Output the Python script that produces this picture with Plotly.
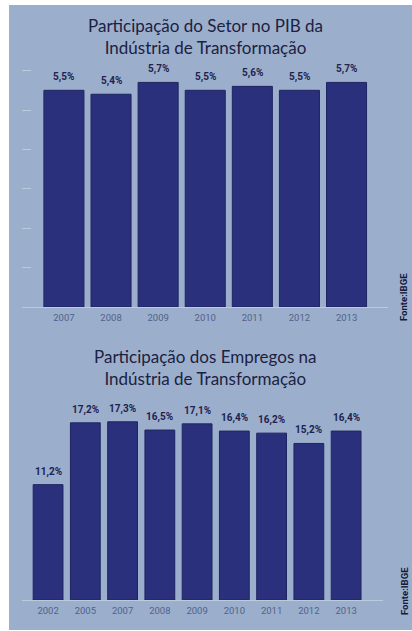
import plotly.graph_objects as go

W, H = 412, 631

# Participação do setor no PIB da indústria de transformação (%)
pib_years = ["2007", "2008", "2009", "2010", "2011", "2012", "2013"]
pib_values = [5.5, 5.4, 5.7, 5.5, 5.6, 5.5, 5.7]

# Participação dos empregos na indústria de transformação (%)
emp_years = ["2002", "2005", "2007", "2008", "2009", "2010", "2011", "2012", "2013"]
emp_values = [11.2, 17.2, 17.3, 16.5, 17.1, 16.4, 16.2, 15.2, 16.4]

BG = "#9bafcc"
BAR = "#2b307d"
BAR_EDGE = "#1f2461"
TITLE = "#1b2142"
LABEL = "#1e2250"
TICK = "#52618a"
LINE = "#bccade"


def px_x(v):
    return v / W


def px_y(v):
    return 1 - v / H


def fmt(v):
    return f"{v:.1f}%".replace(".", ",")


fig = go.Figure()

fig.add_trace(go.Bar(
    x=pib_years, y=pib_values, width=0.85,
    marker=dict(color=BAR, line=dict(color=BAR_EDGE, width=1)),
    xaxis="x", yaxis="y", hoverinfo="skip",
))
fig.add_trace(go.Bar(
    x=emp_years, y=emp_values, width=0.8,
    marker=dict(color=BAR, line=dict(color=BAR_EDGE, width=1)),
    xaxis="x2", yaxis="y2", hoverinfo="skip",
))

annotations = []
for i, (yr, v) in enumerate(zip(pib_years, pib_values)):
    annotations.append(dict(
        x=i, y=v, xref="x", yref="y", text=f"<b>{fmt(v)}</b>",
        showarrow=False, yanchor="bottom", yshift=5,
        font=dict(family="Roboto", size=10, color=LABEL),
    ))
for i, (yr, v) in enumerate(zip(emp_years, emp_values)):
    annotations.append(dict(
        x=i, y=v, xref="x2", yref="y2", text=f"<b>{fmt(v)}</b>",
        showarrow=False, yanchor="bottom", yshift=5,
        font=dict(family="Roboto", size=10, color=LABEL),
    ))

annotations += [
    dict(x=px_x(205), y=px_y(36), xref="paper", yref="paper",
         text="Participação do Setor no PIB da<br>Indústria de Transformação",
         showarrow=False, xanchor="center", yanchor="middle",
         font=dict(family="Lato", size=17, color=TITLE)),
    dict(x=px_x(205), y=px_y(367), xref="paper", yref="paper",
         text="Participação dos Empregos na<br>Indústria de Transformação",
         showarrow=False, xanchor="center", yanchor="middle",
         font=dict(family="Lato", size=17, color=TITLE)),
    dict(x=px_x(404), y=px_y(297), xref="paper", yref="paper",
         text="<b>Fonte:IBGE</b>", textangle=-90,
         showarrow=False, xanchor="center", yanchor="middle",
         font=dict(family="Roboto", size=9.5, color="#15193a")),
    dict(x=px_x(404), y=px_y(591), xref="paper", yref="paper",
         text="<b>Fonte:IBGE</b>", textangle=-90,
         showarrow=False, xanchor="center", yanchor="middle",
         font=dict(family="Roboto", size=9.5, color="#15193a")),
]

axis_common = dict(showgrid=False, zeroline=False, fixedrange=True)
tick_font = dict(family="Roboto", size=9.5, color=TICK)

fig.update_layout(
    width=W, height=H,
    margin=dict(l=0, r=0, t=0, b=0),
    paper_bgcolor="white",
    plot_bgcolor="rgba(0,0,0,0)",
    showlegend=False,
    annotations=annotations,
    shapes=[dict(type="rect", xref="paper", yref="paper",
                 x0=px_x(9), x1=1, y0=px_y(630), y1=px_y(5),
                 fillcolor=BG, line=dict(width=0), layer="below")],
    xaxis=dict(type="category", domain=[px_x(22), px_x(388)], anchor="y",
               range=[-0.89, 6.88], showline=True, linecolor=LINE,
               linewidth=1, ticks="", ticklabelstandoff=2, tickfont=tick_font,
               **axis_common),
    yaxis=dict(domain=[px_y(307), px_y(60)], anchor="x",
               range=[0, 247 / 39.4], showticklabels=False,
               tickvals=[1, 2, 3, 4, 5, 6], ticks="inside", ticklen=9,
               tickcolor=LINE, tickwidth=1, showline=False, **axis_common),
    xaxis2=dict(type="category", domain=[px_x(22), px_x(383)], anchor="y2",
                range=[-0.70, 8.99], showline=True, linecolor=LINE,
                linewidth=1, ticks="", ticklabelstandoff=2, tickfont=tick_font,
                **axis_common),
    yaxis2=dict(domain=[px_y(600), px_y(395)], anchor="x2",
                range=[0, 205 / 10.3], showticklabels=False, ticks="",
                showline=False, **axis_common),
)

fig.write_html("out.html")
